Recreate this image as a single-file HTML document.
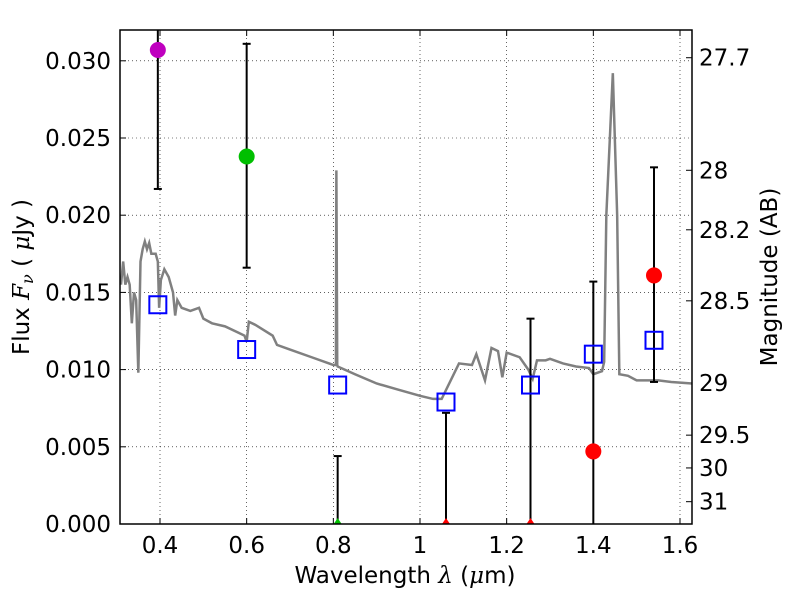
<!DOCTYPE html>
<html><head><meta charset="utf-8"><style>body{margin:0;background:#fff}svg{display:block;font-family:"DejaVu Sans","Liberation Sans",sans-serif}</style></head>
<body>
<svg id="c" width="800" height="600"></svg>
<script>
const xTicks=[0.4,0.6,0.8,1.0,1.2,1.4,1.6];
const xTickLabels=["0.4","0.6","0.8","1","1.2","1.4","1.6"];
const yTicks=[0,0.005,0.01,0.015,0.02,0.025,0.03];
const yTickLabels=["0.000","0.005","0.010","0.015","0.020","0.025","0.030"];
const magTicks=[27.7,28,28.2,28.5,29,29.5,30,31];
const specLam=[0.31,0.315,0.32,0.325,0.33,0.335,0.34,0.345,0.35,0.355,0.36,0.365,0.37,0.375,0.38,0.39,0.395,0.398,0.402,0.41,0.42,0.43,0.435,0.44,0.45,0.47,0.49,0.50,0.52,0.55,0.58,0.595,0.60,0.605,0.62,0.66,0.67,0.70,0.75,0.80,0.806,0.807,0.809,0.81,0.85,0.90,0.95,1.0,1.03,1.05,1.09,1.12,1.13,1.15,1.165,1.18,1.19,1.20,1.23,1.25,1.26,1.27,1.29,1.30,1.33,1.36,1.39,1.40,1.42,1.425,1.43,1.445,1.455,1.46,1.48,1.50,1.55,1.58,1.628];
const specFlux=[0.0155,0.017,0.0155,0.016,0.0155,0.013,0.015,0.0145,0.0098,0.017,0.0178,0.0183,0.0178,0.0182,0.0175,0.0175,0.017,0.014,0.0158,0.0165,0.016,0.015,0.0135,0.0145,0.014,0.0138,0.014,0.0133,0.013,0.0128,0.0124,0.0122,0.0118,0.0131,0.0129,0.0122,0.0116,0.0113,0.0108,0.0103,0.0103,0.0229,0.0103,0.0102,0.0097,0.0091,0.0087,0.0083,0.0081,0.0081,0.0104,0.0103,0.011,0.0093,0.0114,0.0112,0.0095,0.0111,0.0108,0.01,0.0094,0.0106,0.0106,0.0107,0.0104,0.0102,0.0101,0.0097,0.0099,0.0105,0.02,0.0292,0.02,0.0097,0.0096,0.0093,0.0093,0.0092,0.0091];
const bandLam=[0.395,0.60,0.81,1.06,1.255,1.40,1.54];
const modelFlux=[0.0142,0.0113,0.0090,0.0079,0.0090,0.0110,0.0119];
const errLo=[0.0217,0.0166,0,0,0,0,0.0092];
const errHi=[0.034,0.0311,0.0044,0.0072,0.0133,0.0157,0.0231];
const obsLam=[0.395,0.60,1.40,1.54];
const obsFlux=[0.0307,0.0238,0.0047,0.0161];
const obsColor=["#bf00bf","#00bf00","#ff0000","#ff0000"];
const limLam=[0.81,1.06,1.255];
const limColor=["#00bf00","#ff0000","#ff0000"];
const L=120,R=692,T=30,B=524;
const X=v=>160+(v-0.4)*433.33;
const Y=v=>524-v*15440;
const NS="http://www.w3.org/2000/svg";
const svg=document.getElementById('c');
function el(t,a,p){const e=document.createElementNS(NS,t);for(const k in a)e.setAttribute(k,a[k]);(p||svg).appendChild(e);return e;}
const clip=el('clipPath',{id:'cp'});el('rect',{x:L,y:T,width:R-L,height:B-T},clip);
const grid=el('g',{});
xTicks.forEach((v,i)=>{
 el('line',{x1:X(v),x2:X(v),y1:T,y2:B,stroke:'#000','stroke-width':0.6,'stroke-dasharray':'1,3'},grid);
 el('line',{x1:X(v),x2:X(v),y1:B,y2:B-6,stroke:'#000'});el('line',{x1:X(v),x2:X(v),y1:T,y2:T+6,stroke:'#000'});
 const t=el('text',{x:X(v),y:B+29,'text-anchor':'middle','font-size':23});t.textContent=xTickLabels[i];
 
});
yTicks.forEach((v,i)=>{
 el('line',{x1:L,x2:R,y1:Y(v),y2:Y(v),stroke:'#000','stroke-width':0.6,'stroke-dasharray':'1,3'},grid);
 el('line',{x1:L,x2:L+6,y1:Y(v),y2:Y(v),stroke:'#000'});
 const t=el('text',{x:L-9,y:Y(v)+8,'text-anchor':'end','font-size':23});t.textContent=yTickLabels[i];
 
});
magTicks.forEach(m=>{
 const y=Y(Math.pow(10,(23.9-m)/2.5));
 el('line',{x1:R,x2:R-6,y1:y,y2:y,stroke:'#000'});
 const t=el('text',{x:R+7,y:y+8,'font-size':23});t.textContent=String(m);
 
});
const g=el('g',{'clip-path':'url(#cp)'});
const sp=el('polyline',{points:specLam.map((l,i)=>X(l)+','+Y(specFlux[i])).join(' '),fill:'none',stroke:'#808080','stroke-width':2.5},g);

bandLam.forEach((l,i)=>{
 const x=X(l);
 const e=el('g',{},g);
 el('line',{x1:x,x2:x,y1:Y(errLo[i]),y2:Y(errHi[i]),stroke:'#000','stroke-width':2},e);
 if(errLo[i]>0)el('line',{x1:x-4,x2:x+4,y1:Y(errLo[i]),y2:Y(errLo[i]),stroke:'#000','stroke-width':2},e);
 el('line',{x1:x-4,x2:x+4,y1:Y(errHi[i]),y2:Y(errHi[i]),stroke:'#000','stroke-width':2},e);
});
limLam.forEach((l,i)=>{const x=X(l);const p=el('polygon',{points:`${x-4},${B} ${x+4},${B} ${x},${B-6}`,fill:limColor[i]},g);
 });
bandLam.forEach((l,i)=>{const r=el('rect',{x:X(l)-8.5,y:Y(modelFlux[i])-8.5,width:17,height:17,fill:'none',stroke:'#0000ff','stroke-width':2},g);
 });
obsLam.forEach((l,i)=>{const c=el('circle',{cx:X(l),cy:Y(obsFlux[i]),r:8,fill:obsColor[i]},g);
 });
const fr=el('rect',{x:L,y:T,width:R-L,height:B-T,fill:'none',stroke:'#000','stroke-width':1.5});

</script>
<svg style="position:absolute;left:0;top:0" width="800" height="600">
<text x="405" y="583" text-anchor="middle" font-size="23" font-family="DejaVu Sans,sans-serif">Wavelength  <tspan font-style="italic" font-family="DejaVu Serif,serif">λ</tspan> (<tspan font-style="italic" font-family="DejaVu Serif,serif">μ</tspan>m)</text>
<text transform="translate(29,277) rotate(-90)" text-anchor="middle" font-size="23" font-family="DejaVu Sans,sans-serif">Flux  <tspan font-style="italic" font-family="DejaVu Serif,serif">F</tspan><tspan font-style="italic" font-size="16" dy="4" font-family="DejaVu Serif,serif">ν</tspan><tspan dy="-4">  ( </tspan><tspan font-style="italic" font-family="DejaVu Serif,serif">μ</tspan>Jy )</text>
<text transform="translate(777,277) rotate(-90)" text-anchor="middle" font-size="23" font-family="DejaVu Sans,sans-serif">Magnitude (AB)</text>
</svg>
</body></html>
